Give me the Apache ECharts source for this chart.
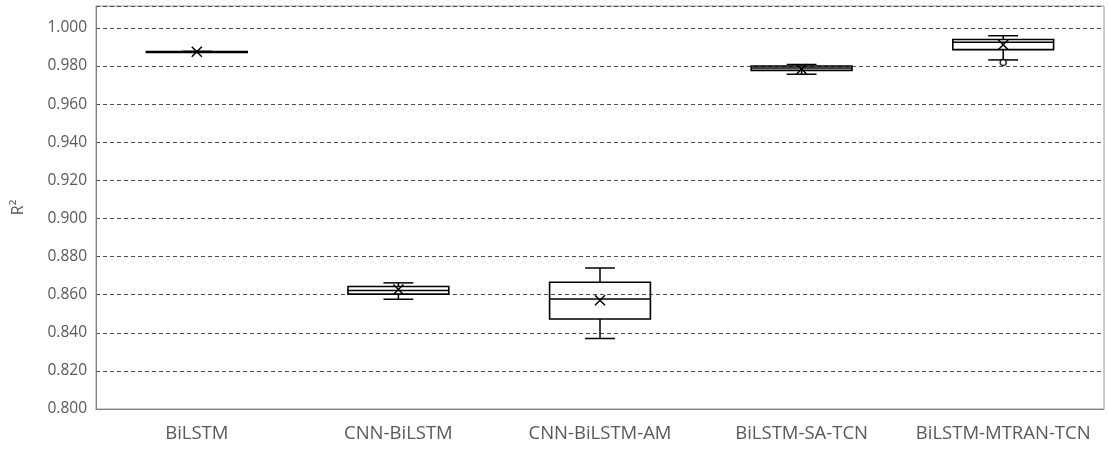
<!DOCTYPE html>
<html>
<head>
<meta charset="utf-8">
<script src="https://cdn.jsdelivr.net/npm/echarts@6/dist/echarts.min.js"></script>
<style>
html,body{margin:0;padding:0;background:#fff;}
#chart{width:1108px;height:451px;}
</style>
</head>
<body>
<div id="chart"></div>
<script>
// Categories (models)
const categories = ['BiLSTM', 'CNN-BiLSTM', 'CNN-BiLSTM-AM', 'BiLSTM-SA-TCN', 'BiLSTM-MTRAN-TCN'];
// Five-number summaries
const whiskerMin = [0.9873, 0.8576, 0.8370, 0.9757, 0.9832];
const quartile1  = [0.9874, 0.8603, 0.8472, 0.9777, 0.9886];
const medianVals = [0.9875, 0.8622, 0.8577, 0.9790, 0.9925];
const quartile3  = [0.9876, 0.8643, 0.8665, 0.9800, 0.9939];
const whiskerMax = [0.9877, 0.8662, 0.8740, 0.9808, 0.9959];
const meanVals   = [0.9875, 0.8627, 0.8571, 0.9784, 0.9912];
// Outliers: [category index, value]
const outlierCat = [4];
const outlierVal = [0.9819];
// Y axis ticks
const yMin = 0.8, yMax = 1.0115, yStep = 0.02;
const yAxisName = 'R²';

const boxData = categories.map((c, i) => [i, whiskerMin[i], quartile1[i], medianVals[i], quartile3[i], whiskerMax[i], meanVals[i]]);
const outlierData = outlierCat.map((c, i) => [c, outlierVal[i]]);

const chart = echarts.init(document.getElementById('chart'));
const lineStyle = {stroke: '#000', lineWidth: 1.5, fill: null};

function renderBox(params, api) {
  const x = api.value(0);
  const band = api.size([1, 0])[0];
  const half = band * 0.25;
  const capHalf = band * 0.074;
  const cx = api.coord([x, api.value(3)])[0];
  const yMinP = api.coord([x, api.value(1)])[1];
  const yQ1 = api.coord([x, api.value(2)])[1];
  const yMed = api.coord([x, api.value(3)])[1];
  const yQ3 = api.coord([x, api.value(4)])[1];
  const yMaxP = api.coord([x, api.value(5)])[1];
  const yMean = api.coord([x, api.value(6)])[1];
  const m = 5;
  const seg = (x1, y1, x2, y2) => ({type: 'line', shape: {x1, y1, x2, y2}, style: lineStyle});
  return {
    type: 'group',
    children: [
      seg(cx, yQ3, cx, yMaxP),
      seg(cx, yQ1, cx, yMinP),
      seg(cx - capHalf, yMaxP, cx + capHalf, yMaxP),
      seg(cx - capHalf, yMinP, cx + capHalf, yMinP),
      {type: 'rect', shape: {x: cx - half, y: yQ3, width: half * 2, height: Math.max(yQ1 - yQ3, 1)}, style: {stroke: '#000', lineWidth: 1.6, fill: null}},
      seg(cx - half, yMed, cx + half, yMed),
      seg(cx - m, yMean - m, cx + m, yMean + m),
      seg(cx - m, yMean + m, cx + m, yMean - m)
    ]
  };
}

const option = {
  animation: false,
  backgroundColor: '#fff',
  grid: {left: 96, right: 4, top: 6, bottom: 42, show: true, borderColor: '#9a9a9a', borderWidth: 1},
  xAxis: {
    type: 'category',
    data: categories,
    axisTick: {show: false},
    axisLine: {lineStyle: {color: '#7f7f7f', width: 1}},
    axisLabel: {color: '#595959', fontFamily: 'Open Sans', fontSize: 18.5, margin: 15, interval: 0}
  },
  yAxis: {
    type: 'value',
    min: yMin,
    max: yMax,
    interval: yStep,
    name: yAxisName,
    nameLocation: 'middle',
    nameGap: 70,
    nameTextStyle: {color: '#595959', fontFamily: 'Open Sans', fontSize: 16},
    axisLine: {show: true, lineStyle: {color: '#7f7f7f', width: 1}},
    axisTick: {show: false},
    axisLabel: {
      color: '#595959', fontFamily: 'Open Sans', fontSize: 15.5, margin: 9,
      formatter: v => {
        const k = (v - yMin) / yStep;
        return Math.abs(k - Math.round(k)) < 1e-6 ? v.toFixed(3) : '';
      }
    },
    splitLine: {show: true, lineStyle: {color: '#4d4d4d', type: [4, 3], width: 1}}
  },
  series: [
    {
      type: 'custom',
      renderItem: renderBox,
      data: boxData,
      encode: {x: 0, y: [1, 2, 3, 4, 5]},
      z: 3
    },
    {
      type: 'scatter',
      data: outlierData,
      symbol: 'circle',
      symbolSize: 6,
      itemStyle: {color: '#fff', borderColor: '#000', borderWidth: 1.5},
      z: 4
    }
  ]
};
chart.setOption(option);
</script>
</body>
</html>
